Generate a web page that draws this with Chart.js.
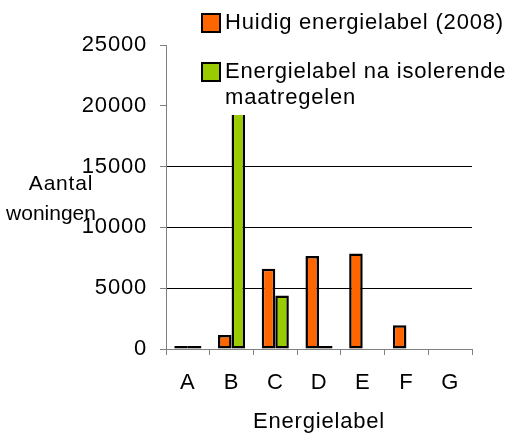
<!DOCTYPE html>
<html>
<head>
<meta charset="utf-8">
<script src="https://cdn.jsdelivr.net/npm/chart.js@4.4.1/dist/chart.umd.min.js"></script>
<style>
  html, body { margin: 0; padding: 0; background: #fff; }
  #wrap { width: 509px; height: 435px; }
</style>
</head>
<body>
<div id="wrap"><canvas id="chart" width="509" height="435"></canvas></div>
<script>
'use strict';

// ── Data ────────────────────────────────────────────────────────
const labels = ['A', 'B', 'C', 'D', 'E', 'F', 'G'];
const huidig = [250, 1150, 6600, 7650, 7850, 1950, 0];
const naIsolatie = [250, 22500, 4400, 250, 0, 0, 0];
const seriesNames = [
  ['Huidig energielabel (2008)'],
  ['Energielabel na isolerende', 'maatregelen']
];
const yTitle = ['Aantal', 'woningen'];
const xTitle = 'Energielabel';

// ── Theme ───────────────────────────────────────────────────────
const COLORS = {
  orange: '#ff6600',
  green:  '#99cc00',
  grid:   '#000000',
  axis:   '#808080',
  text:   '#000000'
};
const FONT = 'Liberation Sans, Arial, sans-serif';
const SPACING = '0.8px';

// Wider letter spacing for all text, like the original rendering
const spacing = {
  id: 'spacing',
  beforeDraw(chart) { chart.ctx.letterSpacing = SPACING; }
};

// Legend box drawn on top of the plot (white background hides the top)
const overlayLegend = {
  id: 'overlayLegend',
  afterDraw(chart) {
    const ctx = chart.ctx;
    const area = chart.chartArea;
    ctx.save();
    ctx.letterSpacing = SPACING;
    ctx.fillStyle = '#fff';
    ctx.fillRect(area.left + 1, 0, chart.width - area.left, 115);

    ctx.font = '22px ' + FONT;
    ctx.fillStyle = COLORS.text;
    ctx.textBaseline = 'middle';
    const items = [
      { box: [202, 14, 18, 18], lines: [23] },
      { box: [202, 63, 18, 18], lines: [72, 98] }
    ];
    chart.data.datasets.forEach((ds, i) => {
      const it = items[i];
      ctx.fillStyle = ds.backgroundColor;
      ctx.fillRect(...it.box);
      ctx.lineWidth = 2;
      ctx.strokeStyle = '#000';
      ctx.strokeRect(...it.box);
      ctx.fillStyle = COLORS.text;
      ds.label.forEach((line, j) => ctx.fillText(line, 225, it.lines[j]));
    });

    // Y axis title, two horizontal lines over the tick labels
    ctx.textAlign = 'center';
    ctx.font = '21px ' + FONT;
    ctx.fillText(yTitle[0], 61, 184);
    ctx.letterSpacing = '0px';
    ctx.fillText(yTitle[1], 51, 214);
    ctx.restore();
  }
};

new Chart(document.getElementById('chart'), {
  type: 'bar',
  data: {
    labels: labels,
    datasets: [
      { label: seriesNames[0], data: huidig, backgroundColor: COLORS.orange },
      { label: seriesNames[1], data: naIsolatie, backgroundColor: COLORS.green }
    ]
  },
  options: {
    responsive: false,
    animation: false,
    layout: { padding: { left: 0, right: 37, top: 45, bottom: 0 } },
    datasets: {
      bar: {
        borderColor: '#000',
        borderWidth: 2.5,
        borderSkipped: false,
        categoryPercentage: 0.62,
        barPercentage: 1.0
      }
    },
    scales: {
      x: {
        grid: { drawOnChartArea: false, tickLength: 6, tickColor: COLORS.axis, offset: true },
        border: { color: COLORS.axis },
        ticks: { color: COLORS.text, font: { family: FONT, size: 22 }, padding: 15, maxRotation: 0 },
        title: { display: true, text: xTitle, color: COLORS.text, font: { family: FONT, size: 22 }, padding: { top: 0, bottom: 0 } },
        afterFit(scale) { scale.height = 86; }
      },
      y: {
        min: 0,
        max: 25000,
        ticks: {
          stepSize: 5000,
          color: COLORS.text,
          font: { family: FONT, size: 22 },
          padding: 13,
          callback: v => String(v)
        },
        grid: {
          color: ctx => ctx.tick && ctx.tick.value === 0 ? 'rgba(0,0,0,0)' : COLORS.grid,
          tickColor: COLORS.axis,
          tickLength: 6
        },
        border: { color: COLORS.axis },
        afterFit(scale) { scale.width = 166; }
      }
    },
    plugins: {
      legend: { display: false },
      tooltip: { enabled: false }
    }
  },
  plugins: [spacing, overlayLegend]
});
</script>
</body>
</html>
